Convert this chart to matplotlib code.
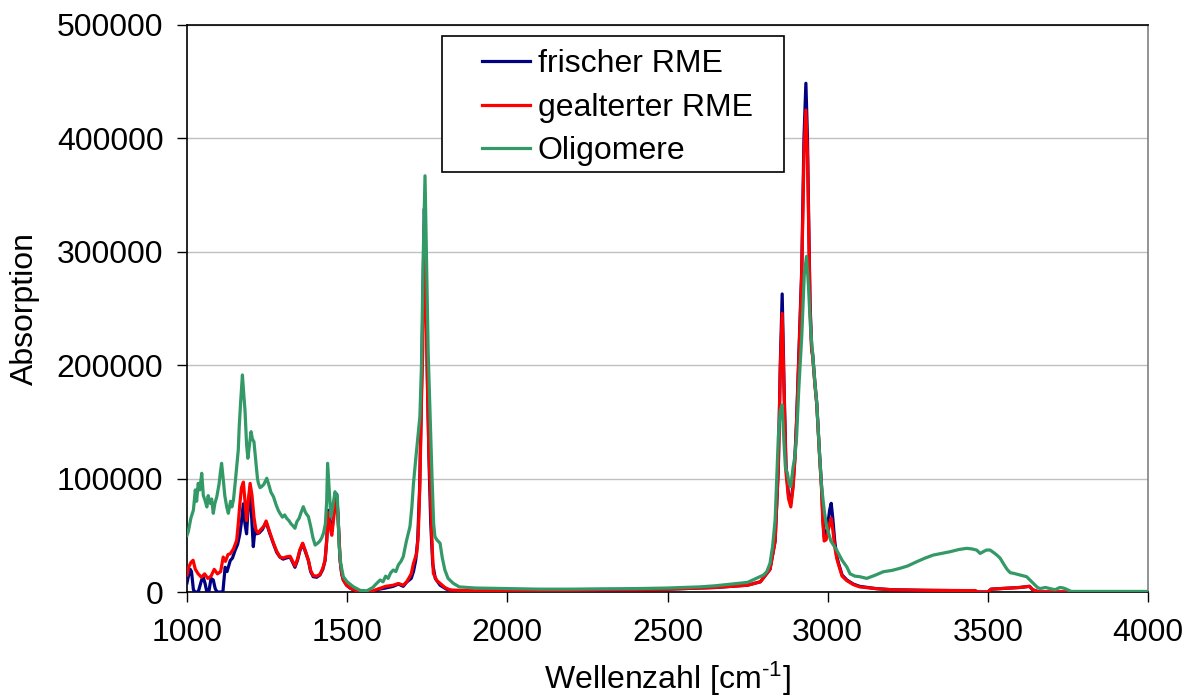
import matplotlib
matplotlib.use("Agg")
import matplotlib.pyplot as plt
from matplotlib.patches import Rectangle
from matplotlib.ticker import FuncFormatter

plt.rcParams['font.family'] = ['Liberation Sans', 'DejaVu Sans']
plt.rcParams['mathtext.fontset'] = 'custom'
plt.rcParams['mathtext.rm'] = 'Liberation Sans'
plt.rcParams['mathtext.it'] = 'Liberation Sans'
plt.rcParams['mathtext.default'] = 'regular'

# --- spectra: wavenumber [cm^-1] and absorption -----------------------------
frisch_wn = [1000, 1004, 1010, 1014, 1020, 1025, 1035, 1045, 1050, 1056, 1062, 1068,
             1075, 1082, 1088, 1094, 1112, 1119, 1125, 1135, 1142, 1150, 1158, 1165,
             1170, 1176, 1181, 1186, 1190, 1197, 1202, 1207, 1212, 1217, 1225, 1235,
             1247, 1258, 1270, 1280, 1290, 1300, 1310, 1322, 1330, 1337, 1345, 1352,
             1361, 1370, 1379, 1386, 1394, 1405, 1415, 1424, 1431, 1436, 1441, 1446,
             1452, 1458, 1463, 1467, 1471, 1475, 1478, 1483, 1488, 1498, 1509, 1525,
             1540, 1575, 1600, 1620, 1644, 1660, 1675, 1686, 1700, 1707, 1714, 1720,
             1726, 1731, 1736, 1741, 1746, 1751, 1756, 1761, 1767, 1775, 1790, 1810,
             1830, 1900, 2000, 2100, 2200, 2300, 2400, 2500, 2600, 2650, 2700, 2750,
             2790, 2820, 2836, 2846, 2852, 2858, 2864, 2870, 2878, 2885, 2892, 2898,
             2903, 2910, 2919, 2926, 2932, 2937, 2940, 2945, 2950, 2953, 2960, 2966,
             2975, 2981, 2985, 2989, 2995, 3000, 3006, 3011, 3016, 3022, 3028, 3034,
             3045, 3060, 3080, 3100, 3150, 3200, 3300, 3460, 3470, 3500, 3510, 3600,
             3630, 3640, 3660, 4000]
frisch_abs = [8000, 13500, 20000, 18000, 2000, 0, 0, 10000, 13500, 8000, 0, 0,
              12000, 10600, 3000, 0, 0, 21800, 18000, 27700, 30000, 36600, 42000, 51300,
              62000, 77800, 60000, 51300, 70000, 92300, 65000, 40000, 55000, 51300, 52000, 55000,
              61600, 52000, 42500, 35000, 30800, 29000, 30000, 30800, 26000, 21800, 28000, 36000,
              42500, 35000, 27700, 18000, 13500, 13000, 15000, 20000, 27700, 45000, 72000, 60000,
              53200, 70000, 86000, 86400, 70000, 45000, 27700, 16000, 10600, 6000, 3500, 1000,
              0, 0, 2500, 3500, 5000, 7000, 5000, 8800, 12000, 18000, 28000, 45000,
              90000, 160000, 250000, 338000, 280000, 180000, 110000, 60000, 25000, 12000, 6000, 2500,
              1000, 500, 1000, 1200, 1500, 1500, 2000, 2500, 3500, 4000, 5000, 6000,
              9000, 20000, 45000, 110000, 200000, 262800, 180000, 110000, 85000, 78200, 95000, 120000,
              151700, 210000, 284000, 400000, 448600, 400000, 342800, 254600, 215000, 210500, 185000, 166400,
              120000, 92900, 65000, 48800, 50000, 58000, 72000, 78200, 65000, 45000, 32000, 25300,
              15000, 10600, 7000, 5000, 3000, 2000, 1500, 1000, 0, 0, 2500, 4000,
              5000, 2000, 0, 0]

gealtert_wn = [1000, 1004, 1012, 1019, 1026, 1035, 1045, 1055, 1065, 1075, 1085, 1095,
               1105, 1113, 1120, 1128, 1135, 1145, 1155, 1160, 1165, 1170, 1176, 1181,
               1186, 1191, 1197, 1203, 1209, 1215, 1222, 1230, 1240, 1247, 1258, 1270,
               1280, 1290, 1300, 1310, 1322, 1330, 1337, 1345, 1352, 1361, 1370, 1379,
               1386, 1394, 1405, 1415, 1424, 1431, 1436, 1441, 1446, 1452, 1458, 1463,
               1467, 1471, 1475, 1478, 1483, 1488, 1498, 1509, 1525, 1540, 1575, 1600,
               1620, 1644, 1660, 1675, 1686, 1700, 1707, 1717, 1722, 1727, 1732, 1736,
               1740, 1742, 1745, 1750, 1755, 1759, 1764, 1769, 1780, 1790, 1805, 1821,
               1900, 2000, 2100, 2200, 2300, 2400, 2500, 2600, 2650, 2700, 2750, 2790,
               2820, 2836, 2846, 2852, 2858, 2864, 2870, 2878, 2885, 2892, 2898, 2903,
               2910, 2919, 2926, 2932, 2937, 2940, 2945, 2950, 2953, 2960, 2966, 2975,
               2981, 2985, 2989, 2995, 3000, 3006, 3011, 3016, 3022, 3028, 3034, 3045,
               3060, 3080, 3100, 3150, 3200, 3300, 3460, 3470, 3500, 3510, 3600, 3630,
               3640, 3660, 4000]
gealtert_abs = [15000, 21000, 26000, 28000, 20000, 16000, 13000, 16000, 12000, 14000, 20000, 16000,
                18000, 30800, 27000, 33000, 33700, 38000, 45500, 60000, 77800, 92000, 96900, 80000,
                63000, 80000, 95800, 85000, 66000, 55000, 52000, 55000, 58000, 62600, 53000, 43000,
                36000, 31000, 30000, 31000, 31500, 27000, 23000, 29000, 37000, 43000, 36000, 28000,
                19000, 14500, 14000, 15500, 21000, 28000, 45000, 70000, 58000, 50000, 65000, 78000,
                80600, 68000, 45000, 28000, 16000, 10600, 6000, 3500, 1500, 500, 500, 3000,
                5000, 6000, 7500, 6000, 9000, 16000, 25300, 34100, 50000, 95800, 170000, 213400,
                300000, 330000, 280000, 190000, 125000, 95800, 50000, 16500, 10000, 7700, 4000, 1800,
                1000, 1500, 1500, 1500, 1800, 2000, 2500, 3500, 4000, 5000, 6000, 9000,
                20000, 45000, 110000, 195000, 245700, 175000, 105000, 82000, 75000, 92000, 118000, 150000,
                205000, 280000, 385000, 425000, 385000, 335000, 250000, 212000, 208000, 183000, 165000, 118000,
                90000, 62000, 45000, 46000, 52000, 60000, 65000, 55000, 40000, 30000, 24000, 14000,
                10000, 6500, 4500, 3000, 2000, 1500, 1200, 0, 0, 2500, 4000, 5000,
                2000, 0, 0]

oligo_wn = [1000, 1004, 1012, 1020, 1026, 1030, 1035, 1040, 1046, 1051, 1056, 1062,
            1066, 1072, 1077, 1082, 1087, 1093, 1100, 1104, 1108, 1113, 1118, 1124,
            1129, 1136, 1140, 1145, 1150, 1155, 1160, 1163, 1168, 1173, 1177, 1181,
            1186, 1190, 1195, 1200, 1204, 1209, 1215, 1220, 1223, 1228, 1233, 1240,
            1245, 1249, 1255, 1262, 1270, 1278, 1285, 1290, 1298, 1305, 1311, 1318,
            1325, 1332, 1337, 1343, 1350, 1356, 1363, 1370, 1379, 1386, 1393, 1400,
            1408, 1415, 1421, 1426, 1432, 1436, 1439, 1443, 1449, 1455, 1462, 1466,
            1469, 1472, 1475, 1480, 1488, 1500, 1519, 1540, 1561, 1580, 1590, 1603,
            1612, 1620, 1628, 1636, 1644, 1652, 1660, 1668, 1675, 1685, 1696, 1702,
            1707, 1715, 1722, 1727, 1732, 1737, 1743, 1748, 1753, 1759, 1765, 1770,
            1774, 1780, 1790, 1797, 1805, 1815, 1831, 1850, 1900, 2000, 2100, 2200,
            2300, 2400, 2500, 2600, 2650, 2700, 2750, 2789, 2800, 2810, 2820, 2828,
            2836, 2846, 2852, 2858, 2864, 2868, 2874, 2880, 2885, 2892, 2898, 2903,
            2910, 2919, 2927, 2934, 2940, 2946, 2953, 2960, 2966, 2974, 2981, 2990,
            2997, 3010, 3028, 3045, 3060, 3070, 3085, 3100, 3122, 3150, 3174, 3200,
            3226, 3250, 3278, 3305, 3330, 3355, 3382, 3410, 3434, 3450, 3465, 3476,
            3486, 3496, 3507, 3517, 3528, 3538, 3548, 3560, 3570, 3580, 3600, 3621,
            3630, 3642, 3655, 3663, 3680, 3694, 3710, 3725, 3736, 3745, 3756, 3760,
            4000]
oligo_abs = [50000, 53200, 65000, 72300, 90000, 80000, 95800, 90000, 104700, 85000, 81100, 75000,
             85000, 78200, 82000, 69400, 78000, 84000, 95000, 105000, 113500, 100000, 85000, 75000,
             69400, 80000, 75000, 81100, 95000, 110500, 125000, 145800, 170000, 191400, 175000, 160500,
             130000, 117900, 130000, 141400, 135000, 132500, 115000, 100000, 95800, 92000, 92900, 95000,
             98000, 100300, 95000, 88000, 84000, 77000, 72000, 69400, 66000, 68000, 65000, 63000,
             60000, 58000, 56200, 62000, 65000, 70000, 75200, 70000, 66400, 58000, 48000, 41400,
             43000, 45000, 48000, 51800, 60000, 80000, 113500, 95000, 66400, 75000, 88400, 86000,
             85500, 65000, 40000, 25000, 13500, 9000, 4700, 1500, 1000, 4000, 7000, 10600,
             9000, 14000, 12000, 17000, 19400, 18000, 24000, 27000, 31100, 45000, 57600, 75000,
             95800, 120000, 140000, 154600, 200000, 290000, 367000, 290000, 210000, 154600, 100000, 60000,
             48800, 46000, 43000, 30000, 19400, 12000, 7700, 4500, 3500, 3000, 2500, 2500,
             2800, 3000, 3500, 4500, 5500, 7000, 8500, 13500, 15000, 18000, 25300, 40000,
             63500, 137000, 160000, 164900, 130000, 110000, 105000, 95000, 92900, 110000, 120000, 137000,
             180000, 225000, 280000, 296000, 270000, 235000, 210500, 185000, 166400, 125000, 92900, 70000,
             57600, 45000, 37000, 28000, 22000, 16000, 14000, 13500, 12000, 15000, 17900, 19000,
             20900, 23000, 26700, 30000, 32600, 34000, 35500, 37500, 38500, 38000, 37000, 34000,
             35600, 37000, 37000, 35000, 32600, 30000, 25300, 20000, 17000, 16500, 15000, 13500,
             11000, 7700, 4000, 3000, 4000, 3000, 2000, 4000, 3500, 2500, 1000, 500,
             500]

series_names = ["frischer RME", "gealterter RME", "Oligomere"]
y_ticks = [0, 100000, 200000, 300000, 400000, 500000]
x_ticks = [1000, 1500, 2000, 2500, 3000, 3500, 4000]

# --- figure ------------------------------------------------------------------
fig = plt.figure(figsize=(11.96, 7.00), dpi=100)
ax = fig.add_axes([187 / 1196, 1 - 592 / 700, (1148 - 187) / 1196, (592 - 25) / 700])

fs = 23
lw = 2.3
l1, = ax.plot(frisch_wn, frisch_abs, color="#000080", lw=lw, zorder=3)
l2, = ax.plot(gealtert_wn, gealtert_abs, color="#FF0000", lw=lw, zorder=4)
l3, = ax.plot(oligo_wn, oligo_abs, color="#339966", lw=lw, zorder=5)

ax.set_xlim(1000, 4000)
ax.set_ylim(0, 500000)
ax.set_xticks(x_ticks)
ax.set_yticks(y_ticks)
ax.yaxis.set_major_formatter(FuncFormatter(lambda v, _: f"{v:.0f}"))
ax.xaxis.set_major_formatter(FuncFormatter(lambda v, _: f"{v:.0f}"))
ax.grid(axis="y", color="#c0c0c0", lw=1.0, zorder=0)
ax.set_axisbelow(True)

ax.tick_params(axis="both", direction="out", length=7, width=1, labelsize=fs,
               color="black")
ax.tick_params(axis="x", pad=12)
ax.tick_params(axis="y", pad=10)
for side in ["left", "bottom", "top"]:
    ax.spines[side].set_color("black")
    ax.spines[side].set_linewidth(1.2)
ax.spines["right"].set_color("#808080")
ax.spines["right"].set_linewidth(1.2)

ax.set_xlabel("Wellenzahl [cm$^{\u2010 1}$]", fontsize=fs, labelpad=8)
ax.set_ylabel("Absorption", fontsize=fs, labelpad=12)

# legend: fixed frame with entries placed inside
fig.patches.append(Rectangle((442 / 1196, 1 - 172 / 700), (784 - 442) / 1196, (172 - 36) / 700,
                             transform=fig.transFigure, facecolor="white",
                             edgecolor="black", lw=1.2, zorder=10))
leg = fig.legend([l1, l2, l3], series_names, loc="upper left",
                 bbox_to_anchor=(466 / 1196, 1 - 33 / 700), frameon=False,
                 fontsize=fs, borderpad=0, handlelength=1.5, handletextpad=0.25,
                 labelspacing=0.43)
leg.set_zorder(11)
for line in leg.get_lines():
    line.set_linewidth(2.3)

fig.savefig("out.png", dpi=100)
